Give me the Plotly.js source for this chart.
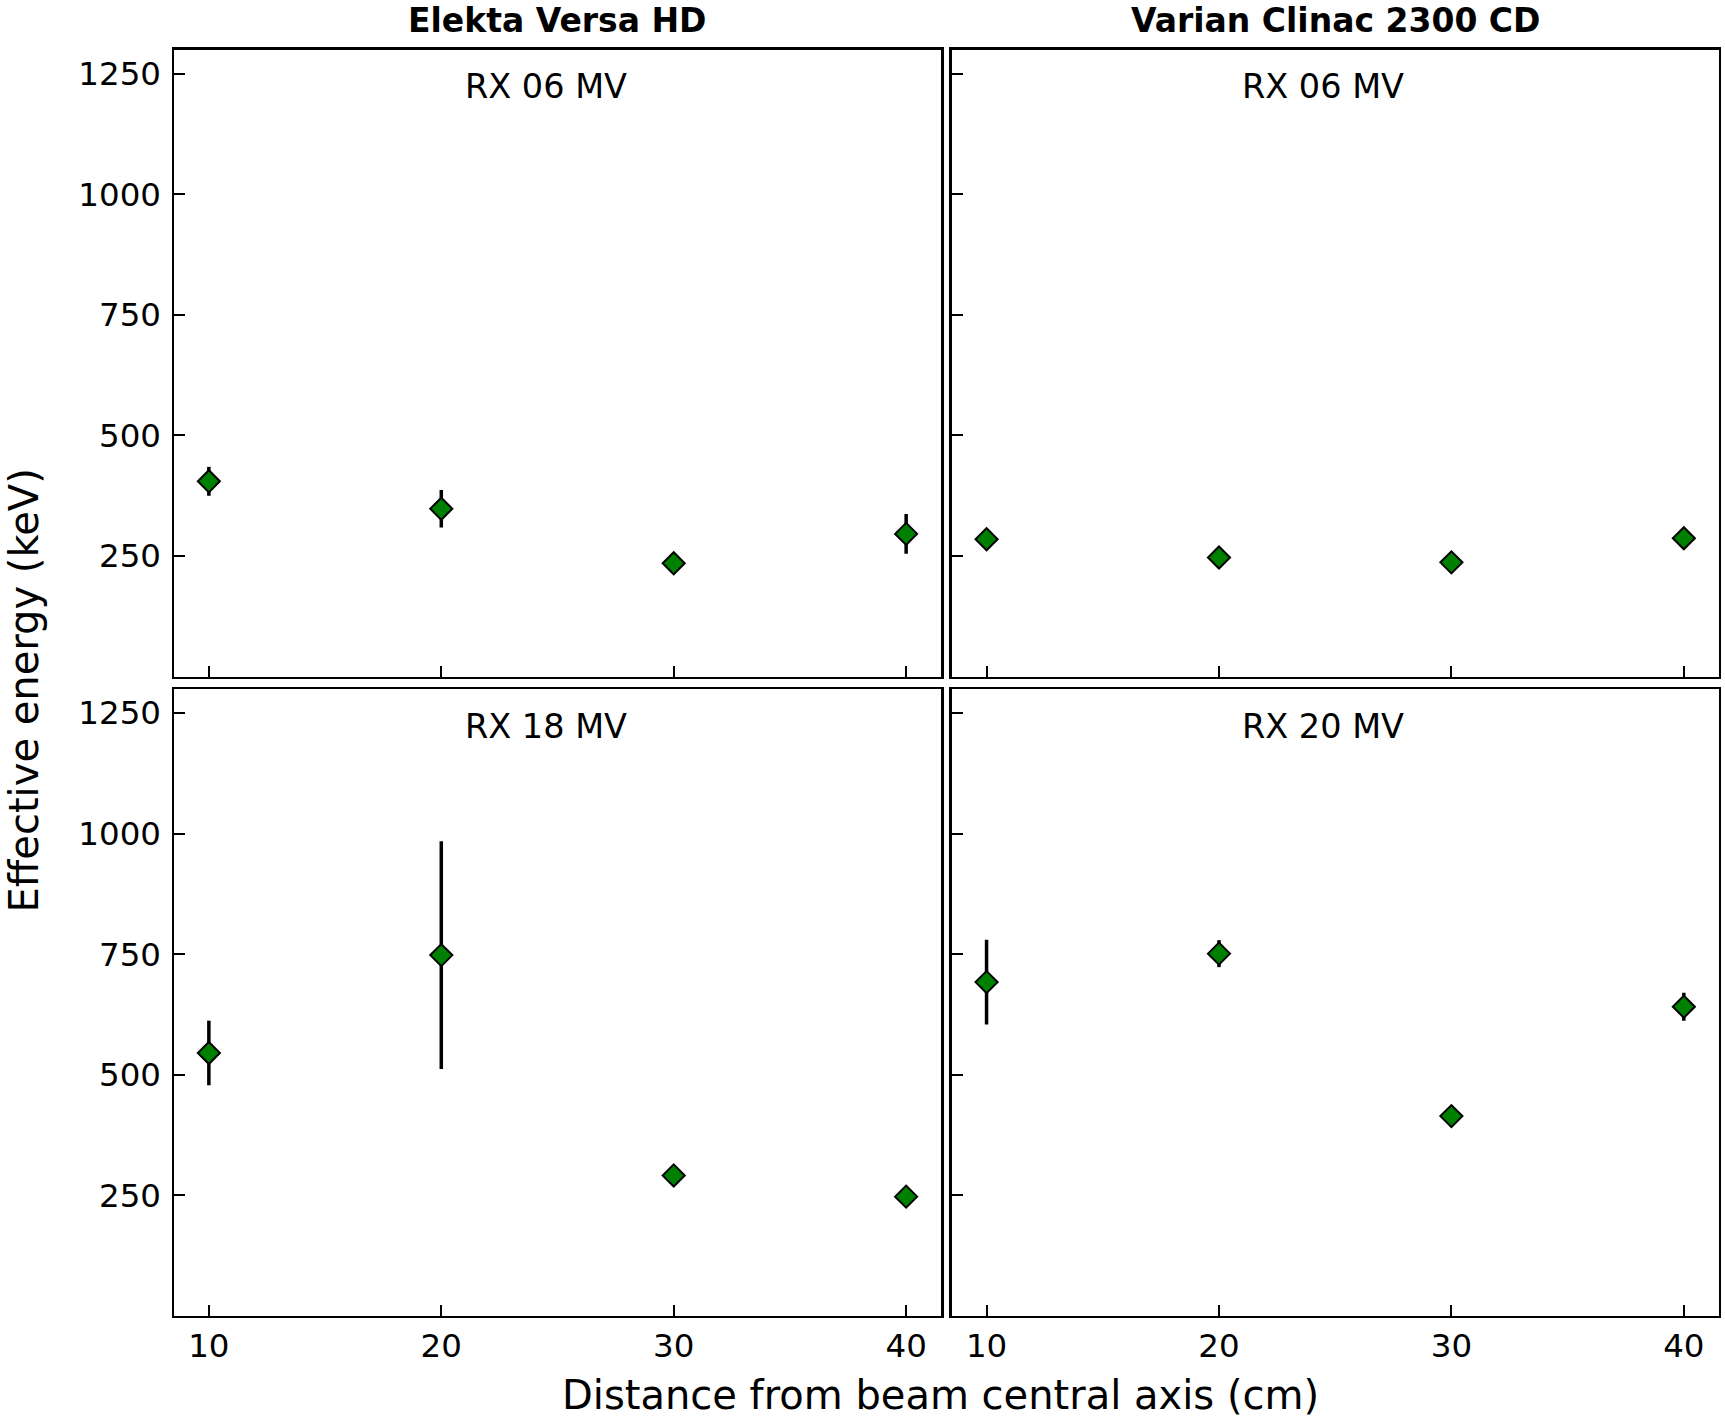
<!DOCTYPE html>
<html>
<head>
<meta charset="utf-8">
<script src="https://cdn.plot.ly/plotly-3.0.1.min.js"></script>
<style>
    body { margin: 0; background: #fff; }
    #chart { width: 1725px; height: 1418px; }
</style>
</head>
<body>
<div id="chart"></div>
<script>
"use strict"
// distances from beam central axis (cm)
var distances = [10, 20, 30, 40];

// effective energy (keV) and uncertainty
var elekta06 = [405, 348, 235, 296];
var elekta06Err = [30, 39, 10, 41];
var varian06 = [285, 247, 237, 287];
var varian06Err = [8, 8, 8, 8];
var elekta18 = [545, 748, 291, 247];
var elekta18Err = [67, 236, 10, 8];
var varian20 = [692, 751, 414, 641];
var varian20Err = [88, 28, 10, 29];

var yTicks = [250, 500, 750, 1000, 1250];
var xTicks = [10, 20, 30, 40];

var W = 1725, H = 1418;
var font = 'DejaVu Sans';

function makeTrace(y, err, xa, ya) {
    return {
        x: distances,
        y: y,
        xaxis: xa,
        yaxis: ya,
        type: 'scatter',
        mode: 'markers',
        hoverinfo: 'none',
        error_y: {
            type: 'data',
            array: err,
            visible: true,
            color: 'black',
            thickness: 3.5,
            width: 0
        },
        marker: {
            symbol: 'diamond',
            size: 17,
            color: 'green',
            line: { color: 'black', width: 2 }
        }
    };
}

var data = [
    makeTrace(elekta06, elekta06Err, 'x3', 'y3'),
    makeTrace(varian06, varian06Err, 'x4', 'y4'),
    makeTrace(elekta18, elekta18Err, 'x', 'y'),
    makeTrace(varian20, varian20Err, 'x2', 'y2')
];

function xAxis(domain, anchor, labels) {
    return {
        domain: domain,
        anchor: anchor,
        range: [8.5, 41.5],
        tickvals: xTicks,
        ticks: 'inside',
        ticklen: 11,
        tickwidth: 2,
        tickcolor: 'black',
        showticklabels: labels,
        tickfont: { family: font, size: 32.5, color: 'black' },
        showline: true,
        mirror: true,
        linecolor: 'black',
        linewidth: 2.5,
        showgrid: false,
        zeroline: false
    };
}

function yAxis(domain, anchor, labels) {
    return {
        domain: domain,
        anchor: anchor,
        range: [0, 1300],
        tickvals: yTicks,
        ticks: 'inside',
        ticklen: 11,
        tickwidth: 2,
        tickcolor: 'black',
        showticklabels: labels,
        ticklabelstandoff: 4,
        tickfont: { family: font, size: 32.5, color: 'black' },
        showline: true,
        mirror: true,
        linecolor: 'black',
        linewidth: 2.5,
        showgrid: false,
        zeroline: false
    };
}

var leftDom = [174 / W, 941 / W];
var rightDom = [951.7 / W, 1718.7 / W];
var topDom = [1 - 676.7 / H, 1 - 49.5 / H];
var botDom = [1 - 1315.7 / H, 1 - 689 / H];

function note(text, px, py, size, extra) {
    var a = {
        text: text,
        x: px / W,
        y: 1 - py / H,
        xref: 'paper',
        yref: 'paper',
        xanchor: 'center',
        yanchor: 'middle',
        showarrow: false,
        borderpad: 0,
        font: { family: font, size: size, color: 'black' }
    };
    for (var k in extra) a[k] = extra[k];
    return a;
}

var layout = {
    width: W,
    height: H,
    margin: { l: 0, r: 0, t: 0, b: 0 },
    paper_bgcolor: 'white',
    plot_bgcolor: 'white',
    showlegend: false,
    xaxis: xAxis(leftDom, 'y', true),
    yaxis: yAxis(botDom, 'x', true),
    xaxis2: xAxis(rightDom, 'y2', true),
    yaxis2: yAxis(botDom, 'x2', false),
    xaxis3: xAxis(leftDom, 'y3', false),
    yaxis3: yAxis(topDom, 'x3', true),
    xaxis4: xAxis(rightDom, 'y4', false),
    yaxis4: yAxis(topDom, 'x4', false),
    annotations: [
        note('<b>Elekta Versa HD</b>', 557.5, 21, 33),
        note('<b>Varian Clinac 2300 CD</b>', 1335, 21, 33),
        note('RX 06 MV', 545.5, 86.5, 33.5),
        note('RX 06 MV', 1323, 86.5, 33.5),
        note('RX 18 MV', 545.5, 726, 33.5),
        note('RX 20 MV', 1323, 726, 33.5),
        note('Effective energy (keV)', 23.5, 691, 40, { textangle: -90 }),
        note('Distance from beam central axis (cm)', 940.5, 1395, 40)
    ]
};

Plotly.newPlot(document.getElementById('chart'), data, layout, { staticPlot: true });
</script>
</body>
</html>
